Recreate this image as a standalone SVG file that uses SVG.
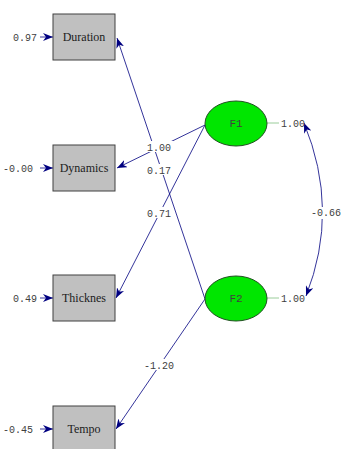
<svg xmlns="http://www.w3.org/2000/svg" width="341" height="449" viewBox="0 0 341 449">
<defs>
<marker id="ah" viewBox="0 0 10 8" refX="10" refY="4" markerWidth="10" markerHeight="8" markerUnits="userSpaceOnUse" orient="auto-start-reverse">
<path d="M0,0 L10,4 L0,8 L3,4 Z" fill="#000080"/>
</marker>
<style>
.box{fill:#c0c0c0;stroke:#404040;stroke-width:1}
.lv{fill:#00e600;stroke:#205020;stroke-width:1}
.nt{font-family:"Liberation Serif","Times New Roman",serif;font-size:12px;fill:#202020;text-anchor:middle}
.num{font-family:"Liberation Mono",monospace;font-size:10px;fill:#404040}
.ln{stroke:#000080;stroke-width:0.8;fill:none}
.bg{fill:#ffffff}
</style>
</defs>
<rect width="341" height="449" fill="#ffffff"/>
<g id="connectors">
<line class="ln" x1="205" y1="299" x2="117" y2="38" marker-end="url(#ah)"/>
<line class="ln" x1="205" y1="125" x2="117" y2="168" marker-end="url(#ah)"/>
<line class="ln" x1="205" y1="125" x2="116" y2="298" marker-end="url(#ah)"/>
<line class="ln" x1="205" y1="299" x2="116" y2="429" marker-end="url(#ah)"/>
<line class="ln" x1="40" y1="37" x2="53" y2="37" marker-end="url(#ah)"/>
<line class="ln" x1="40" y1="168" x2="53" y2="168" marker-end="url(#ah)"/>
<line class="ln" x1="40" y1="298" x2="53" y2="298" marker-end="url(#ah)"/>
<line class="ln" x1="40" y1="429" x2="53" y2="429" marker-end="url(#ah)"/>
<line x1="267" y1="123" x2="279" y2="123" stroke="#80c080" stroke-width="0.8"/>
<line x1="267" y1="298" x2="279" y2="298" stroke="#80c080" stroke-width="0.8"/>
<path class="ln" d="M304,123 Q340,210 306,296" marker-start="url(#ah)" marker-end="url(#ah)"/>
<rect class="bg" x="146" y="141" width="27" height="11"/>
<text class="num" x="147" y="151">1.00</text>
<rect class="bg" x="146" y="164" width="27" height="11"/>
<text class="num" x="147" y="174">0.17</text>
<rect class="bg" x="146" y="207" width="27" height="11"/>
<text class="num" x="147" y="217">0.71</text>
<rect class="bg" x="143" y="359" width="33" height="11"/>
<text class="num" x="144" y="369">-1.20</text>
<rect class="bg" x="311" y="207" width="30" height="12"/>
<text class="num" x="311" y="216">-0.66</text>
<text class="num" x="281" y="127">1.00</text>
<text class="num" x="281" y="302">1.00</text>
</g>
<g id="Duration">
<rect class="box" x="53" y="14" width="62" height="46"/>
<text class="nt" x="84" y="41">Duration</text>
<text class="num" x="13" y="41">0.97</text>
</g>
<g id="Dynamics">
<rect class="box" x="53" y="145" width="62" height="46"/>
<text class="nt" x="84" y="172">Dynamics</text>
<text class="num" x="3" y="172">-0.00</text>
</g>
<g id="Thicknes">
<rect class="box" x="53" y="275" width="62" height="46"/>
<text class="nt" x="84" y="302">Thicknes</text>
<text class="num" x="13" y="302">0.49</text>
</g>
<g id="Tempo">
<rect class="box" x="53" y="406" width="62" height="46"/>
<text class="nt" x="84" y="433">Tempo</text>
<text class="num" x="3" y="433">-0.45</text>
</g>
<g id="F1">
<ellipse class="lv" cx="236" cy="123.5" rx="31" ry="22.5"/>
<text class="num" x="236" y="127" text-anchor="middle" style="font-size:11px">F1</text>
</g>
<g id="F2">
<ellipse class="lv" cx="236" cy="298.5" rx="31" ry="22.5"/>
<text class="num" x="236" y="302" text-anchor="middle" style="font-size:11px">F2</text>
</g>
</svg>
